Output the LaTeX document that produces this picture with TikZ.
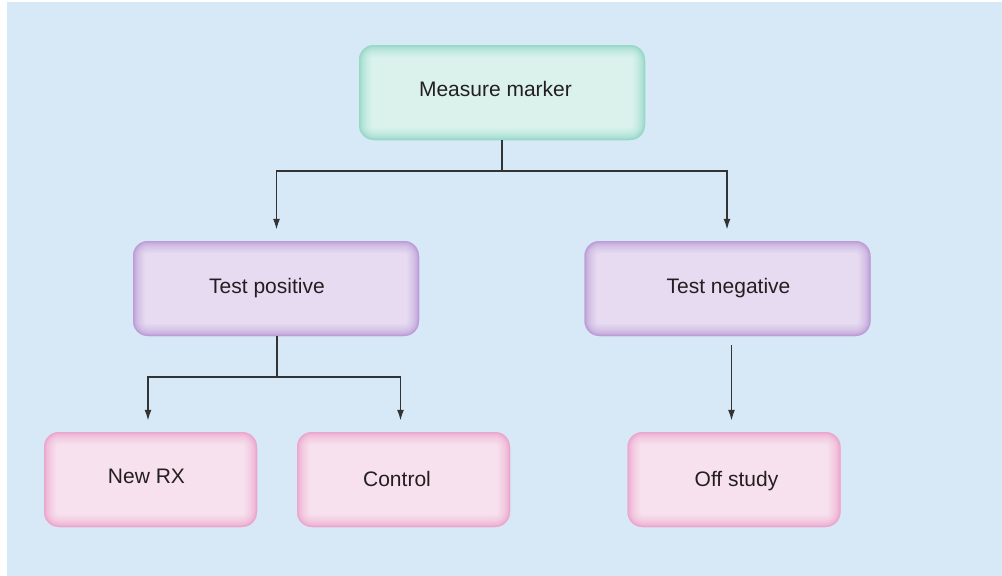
\documentclass[tikz,border=0pt]{standalone}
\usepackage{fontspec}
\setmainfont{Liberation Sans}
\usetikzlibrary{arrows.meta}
\definecolor{bgblue}{HTML}{D7E9F7}
\definecolor{tealfill}{HTML}{DBF2EC}
\definecolor{tealedge}{HTML}{8DD7C4}
\definecolor{purpfill}{HTML}{E7DBF2}
\definecolor{purpedge}{HTML}{B995D5}
\definecolor{pinkfill}{HTML}{F7E1EE}
\definecolor{pinkedge}{HTML}{EC9FCB}
\definecolor{linegray}{HTML}{333333}
\definecolor{txt}{HTML}{231F20}
% #1 = twice the horizontal shift, #2 = raise, #3 = text
\newcommand{\offtext}[3]{\raisebox{#2pt}{\makebox[0pt]{\hspace*{#1pt}#3}}}
\tikzset{
  boxbase/.style 2 args={rounded corners=15pt, inner sep=0pt, fill=#1,
    text=txt, font=\fontsize{21}{25}\selectfont, text height=15pt, text depth=4pt,
    path picture={
      \foreach \w/\o in {24/0.07,21/0.07,18/0.08,15/0.09,12/0.11,9.5/0.13,7/0.16,5/0.2,3.5/0.3,2/0.5}
        \draw[#2, line width=\w pt, opacity=\o, rounded corners=15pt]
          (path picture bounding box.south west) rectangle (path picture bounding box.north east);
    }},
  widebox/.style 2 args={boxbase={#1}{#2}, minimum width=286pt, minimum height=95pt},
  smallbox/.style 2 args={boxbase={#1}{#2}, minimum width=213pt, minimum height=95pt},
  conn/.style={draw=linegray, line width=1.6pt},
  arr/.style={conn, -{Latex[length=11pt,width=7pt]}, shorten >=11pt},
}
\begin{document}
\begin{tikzpicture}[x=1pt,y=-1pt]
\useasboundingbox (0,0) rectangle (1002,576);
\fill[white] (0,0) rectangle (1002,576);
\fill[bgblue] (7,2) rectangle (1002,576);

\node[widebox={tealfill}{tealedge}] (mm) at (502,92.5) {\offtext{-13}{2}{Measure marker}};
\node[widebox={purpfill}{purpedge}] (tp) at (276,288.5) {\offtext{-18}{0.5}{Test positive}};
\node[widebox={purpfill}{purpedge}] (tn) at (727.5,288.5) {\offtext{2}{1}{Test negative}};
\node[smallbox={pinkfill}{pinkedge}] (nrx) at (150.5,479.5) {\offtext{-8}{2}{New RX}};
\node[smallbox={pinkfill}{pinkedge}] (ctl) at (403.5,479.5) {\offtext{-13}{-1}{Control}};
\node[smallbox={pinkfill}{pinkedge}] (off) at (734,479.5) {\offtext{5}{-1}{Off study}};

\coordinate (j1) at (502,171);
\coordinate (j2) at (277,377);
\draw[conn] (mm.south) -- (j1);
\draw[arr] (j1) -| ([xshift=0.5pt]tp.north);
\draw[arr] (j1) -| ([xshift=-0.5pt]tn.north);
\draw[conn] (tp.south -| j2) -- (j2);
\draw[arr] (j2) -| ([xshift=-2.5pt]nrx.north);
\draw[arr] (j2) -| ([xshift=-3pt]ctl.north);
\draw[arr, shorten <=9pt] ([xshift=-2.5pt]tn.south -| off.north) -- ([xshift=-2.5pt]off.north);
\end{tikzpicture}
\end{document}
